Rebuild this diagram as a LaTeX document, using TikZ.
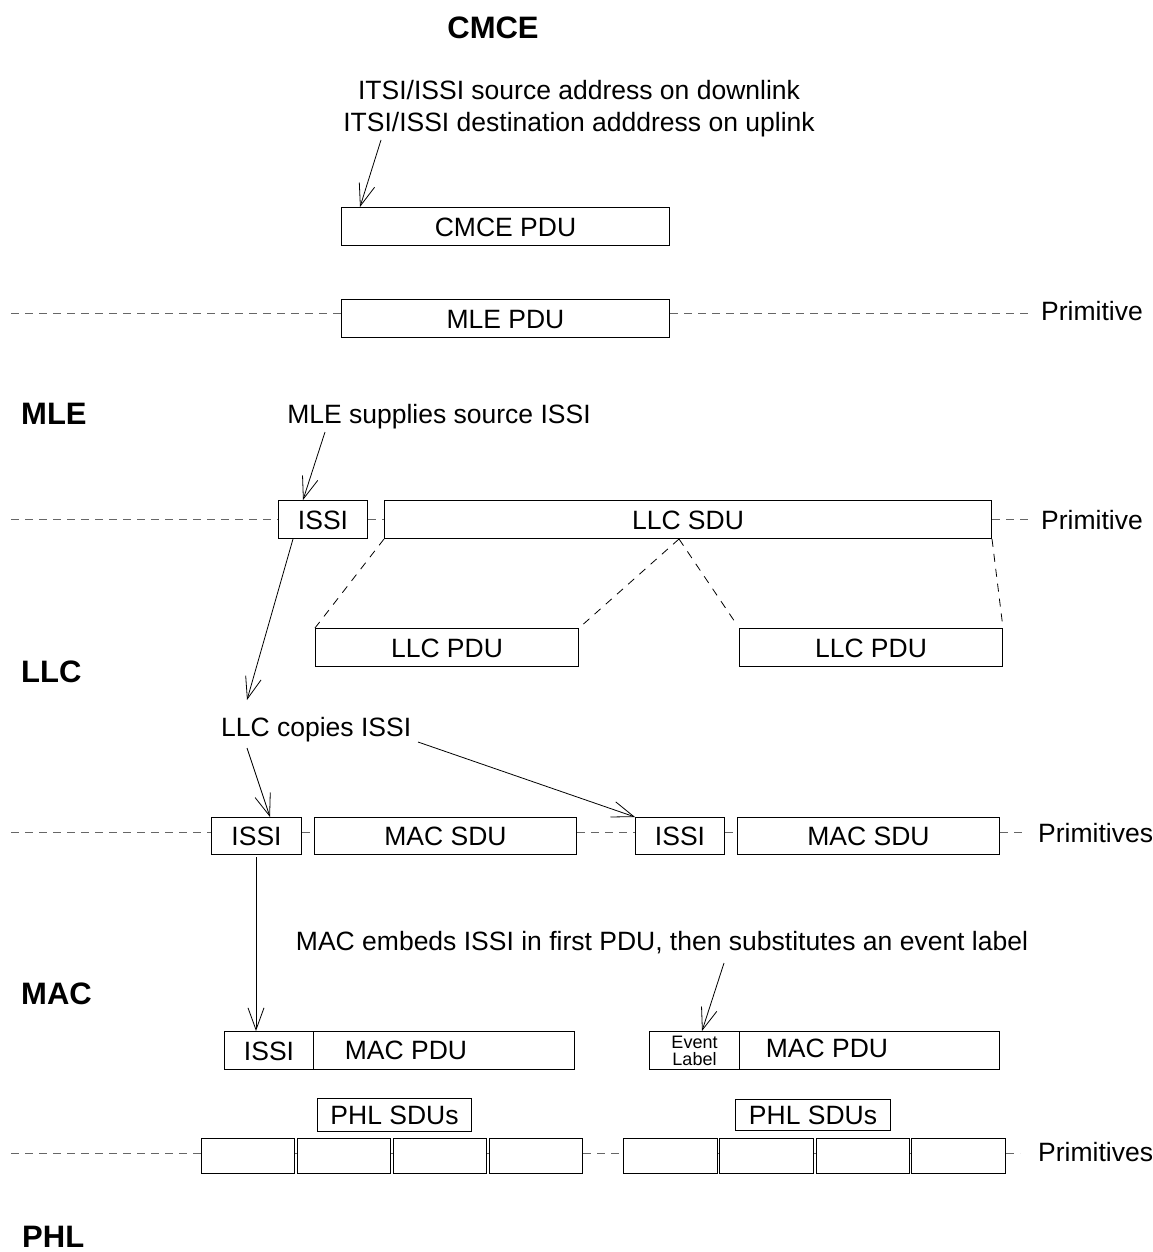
\documentclass[tikz,border=0pt]{standalone}
\usepackage{fontspec}
\setmainfont{Liberation Sans}
\usetikzlibrary{arrows.meta}
\begin{document}
\begin{tikzpicture}[x=1pt,y=-1pt,
  box/.style={draw, line width=1pt, inner sep=0pt, anchor=north west, fill=white,
    font=\fontsize{26.5}{30}\selectfont, text height=19pt, text depth=0pt},
  txt/.style={inner sep=0pt, font=\fontsize{26.5}{30}\selectfont, text height=19pt, text depth=0pt},
  title/.style={inner sep=0pt, font=\fontsize{31}{34}\selectfont\bfseries, text height=22.2pt, text depth=0pt},
  prim/.style={dash pattern=on 8pt off 6pt, draw=black!60, line width=1pt},
  map/.style={dash pattern=on 8pt off 7pt, line width=0.8pt},
  arr/.style={-{Straight Barb[length=22pt,width=16pt]}, line width=0.8pt}]
\useasboundingbox (0,0) rectangle (1152,1252);

% layer titles
\node[title] (tcmce) at (493,27) {CMCE};
\node[title, anchor=west] (tmle) at (21,413) {MLE};
\node[title, anchor=west] (tllc) at (21,671) {LLC};
\node[title, anchor=west] (tmac) at (21,993) {MAC};
\node[title, anchor=west] (tphl) at (22,1236) {PHL};

% CMCE
\node[txt] (note1a) at (579,90) {ITSI/ISSI source address on downlink};
\node[txt] (note1b) at (579,122) {ITSI/ISSI destination adddress on uplink};
\node[box, minimum width=328pt, minimum height=38pt] (cmcepdu) at (341,207) {CMCE PDU};
\coordinate (a1s) at (381,140);
\coordinate (a1e) at (360,207);
\draw[arr] (a1s) -- (a1e);

% MLE PDU
\node[box, minimum width=328pt, minimum height=38pt] (mlepdu) at (341,299) {MLE PDU};
\coordinate (l1) at (11,313);
\coordinate (r1) at (1030,313);
\draw[prim] (l1) -- (l1 -| mlepdu.west);
\draw[prim] (r1 -| mlepdu.east) -- (r1);
\node[txt, anchor=west] (p1) at (1041,311) {Primitive};

% MLE
\node[txt] (note2) at (439,414) {MLE supplies source ISSI};
\node[box, minimum width=89pt, minimum height=38pt] (issiA) at (278,500) {ISSI};
\node[box, minimum width=607pt, minimum height=38pt] (llcsdu) at (384,500) {LLC SDU};
\coordinate (a2s) at (325,432);
\coordinate (a2e) at (303,500);
\draw[arr] (a2s) -- (a2e);
\coordinate (l2) at (11,519);
\coordinate (r2) at (1028,519);
\draw[prim] (l2) -- (l2 -| issiA.west);
\draw[prim] (l2 -| issiA.east) -- (l2 -| llcsdu.west);
\draw[prim] (r2 -| llcsdu.east) -- (r2);
\node[txt, anchor=west] (p2) at (1041,520) {Primitive};

% LLC PDUs
\node[box, minimum width=263pt, minimum height=38pt] (llcpdu1) at (315,628) {LLC PDU};
\node[box, minimum width=263pt, minimum height=38pt] (llcpdu2) at (739,628) {LLC PDU};
\coordinate (split) at (679,539);
\coordinate (m3e) at (735,622);
\draw[map] (llcsdu.south west) -- (llcpdu1.north west);
\draw[map] (split) -- (llcpdu1.north east);
\draw[map] (split) -- (m3e);
\draw[map] (llcsdu.south east) -- (llcpdu2.north east);

% LLC copies
\node[txt, anchor=west] (note3) at (221,727) {LLC copies ISSI};
\coordinate (a3s) at (293,539);
\coordinate (a3e) at (247,700);
\draw[arr] (a3s) -- (a3e);

% MAC SDUs
\node[box, minimum width=90pt, minimum height=37pt] (issiB) at (211,817) {ISSI};
\node[box, minimum width=262pt, minimum height=37pt] (macsdu1) at (314,817) {MAC SDU};
\node[box, minimum width=89pt, minimum height=37pt] (issiC) at (635,817) {ISSI};
\node[box, minimum width=262pt, minimum height=37pt] (macsdu2) at (737,817) {MAC SDU};
\coordinate (l3) at (11,832);
\coordinate (r3) at (1024,832);
\draw[prim] (l3) -- (l3 -| issiB.west);
\draw[prim] (l3 -| issiB.east) -- (l3 -| macsdu1.west);
\draw[prim] (l3 -| macsdu1.east) -- (l3 -| issiC.west);
\draw[prim] (l3 -| issiC.east) -- (l3 -| macsdu2.west);
\draw[prim] (r3 -| macsdu2.east) -- (r3);
\node[txt, anchor=west] (p3) at (1038,833) {Primitives};
\coordinate (a4s) at (247,748);
\coordinate (a4e) at (270,817);
\draw[arr] (a4s) -- (a4e);
\coordinate (a5s) at (418,742);
\draw[arr] (a5s) -- (issiC.north west);

% MAC
\node[txt] (note4) at (662,941) {MAC embeds ISSI in first PDU, then substitutes an event label};
\node[box, minimum width=89pt, minimum height=38pt] (issiD) at (224,1031) {ISSI};
\node[box, minimum width=261pt, minimum height=38pt] (macpdu1) at (313,1031) {};
\node[txt] (m1t) at (406,1050) {MAC PDU};
\node[box, minimum width=90pt, minimum height=38pt, align=center, font=\fontsize{18}{17}\selectfont, text height=, text depth=] (evl) at (649,1031) {Event\\Label};
\node[box, minimum width=260pt, minimum height=38pt] (macpdu2) at (739,1031) {};
\node[txt] (m2t) at (827,1048) {MAC PDU};
\coordinate (a6s) at (256,857);
\draw[arr] (a6s) -- (a6s |- issiD.north);
\coordinate (a7s) at (724,963);
\coordinate (a7e) at (702,1031);
\draw[arr] (a7s) -- (a7e);

% PHL
\node[box, minimum width=154pt, minimum height=33pt] (phl1) at (317,1098) {PHL SDUs};
\node[box, minimum width=155pt, minimum height=31pt] (phl2) at (735,1099) {PHL SDUs};
\foreach \i/\x/\w in {1/201/93, 2/297/93, 3/393/93, 4/489/93, 5/623/94, 6/719/94, 7/816/93, 8/911/94}
  \node[box, minimum width=\w pt, minimum height=35pt] (s\i) at (\x,1138) {};
\coordinate (l4) at (11,1153);
\coordinate (r4) at (1020,1153);
\draw[prim] (l4) -- (l4 -| s1.west);
\foreach \a/\b in {1/2, 2/3, 3/4, 4/5, 5/6, 6/7, 7/8}
  \draw[prim] (l4 -| s\a.east) -- (l4 -| s\b.west);
\draw[prim] (r4 -| s8.east) -- (r4);
\node[txt, anchor=west] (p4) at (1038,1152) {Primitives};
\end{tikzpicture}
\end{document}
